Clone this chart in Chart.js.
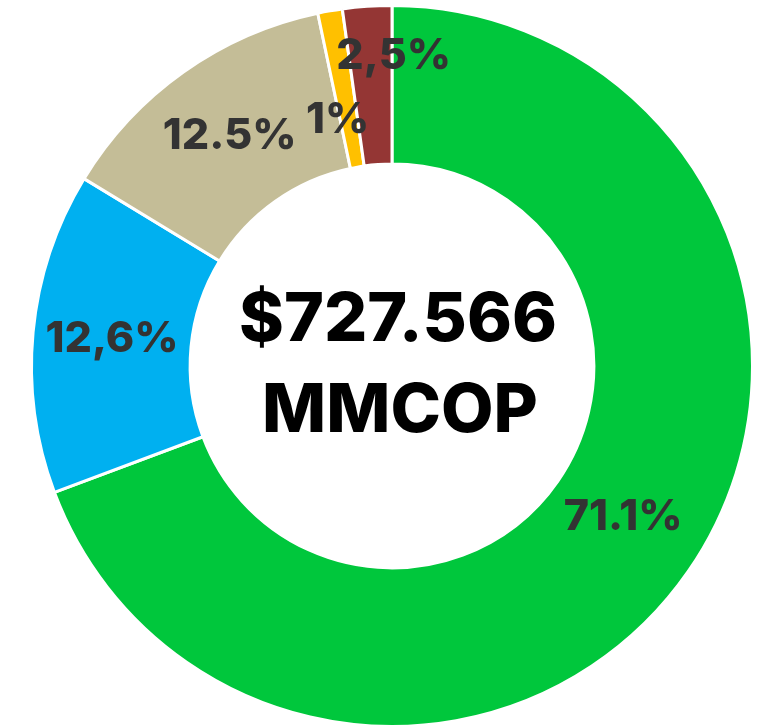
<!DOCTYPE html>
<html>
<head>
<meta charset="utf-8">
<script src="https://cdn.jsdelivr.net/npm/chart.js@4.4.1/dist/chart.umd.min.js"></script>
<style>
  html, body { margin: 0; padding: 0; background: #ffffff; }
  #wrap { width: 768px; height: 728px; }
</style>
</head>
<body>
<div id="wrap"><canvas id="donut" width="768" height="728"></canvas></div>
<script>
// slice sizes (share of the ring, %)
const categories = ["Verde", "Azul", "Beige", "Amarillo", "Rojo"];
const values = [69.3, 14.4, 13.0, 1.1, 2.2];
// texts printed on the slices
const sliceLabels = ["71.1%", "12,6%", "12.5%", "1%", "2,5%"];
const sliceColors = ["#00c73c", "#00b0f0", "#c4bd97", "#ffc000", "#943634"];
const centerLines = ["$727.566", "MMCOP"];

const FONT = "Inter, 'DejaVu Sans', sans-serif";

// nudges for the thin slices, so their texts sit like in the original
const labelNudge = [[0, -9], [0, 0], [0, 0], [-6, 31], [21, -29]];

const sliceText = {
  id: "sliceText",
  afterDatasetsDraw(chart) {
    const ctx = chart.ctx;
    const meta = chart.getDatasetMeta(0);
    ctx.save();
    ctx.fillStyle = "#333333";
    ctx.font = "800 43px " + FONT;
    ctx.textAlign = "center";
    ctx.textBaseline = "middle";
    meta.data.forEach((arc, i) => {
      const p = arc.tooltipPosition();
      const n = labelNudge[i] || [0, 0];
      ctx.fillText(sliceLabels[i], p.x + n[0], p.y + n[1]);
    });

    // text in the hole
    const cx = (chart.chartArea.left + chart.chartArea.right) / 2;
    const cy = (chart.chartArea.top + chart.chartArea.bottom) / 2;
    ctx.fillStyle = "#000000";
    ctx.font = "800 68px " + FONT;
    ctx.fillText(centerLines[0], cx + 6, cy - 45);
    ctx.fillText(centerLines[1], cx + 8, cy + 46);
    ctx.restore();
  },
};

new Chart(document.getElementById("donut"), {
  type: "doughnut",
  data: {
    labels: categories,
    datasets: [
      {
        data: values,
        backgroundColor: sliceColors,
        borderColor: "#ffffff",
        borderWidth: 3,
        hoverOffset: 0,
      },
    ],
  },
  options: {
    responsive: false,
    animation: false,
    cutout: "56%",
    layout: { padding: { left: 16, top: 4, right: 0, bottom: 0 } },
    plugins: {
      legend: { display: false },
      tooltip: { enabled: false },
    },
  },
  plugins: [sliceText],
});
</script>
</body>
</html>
